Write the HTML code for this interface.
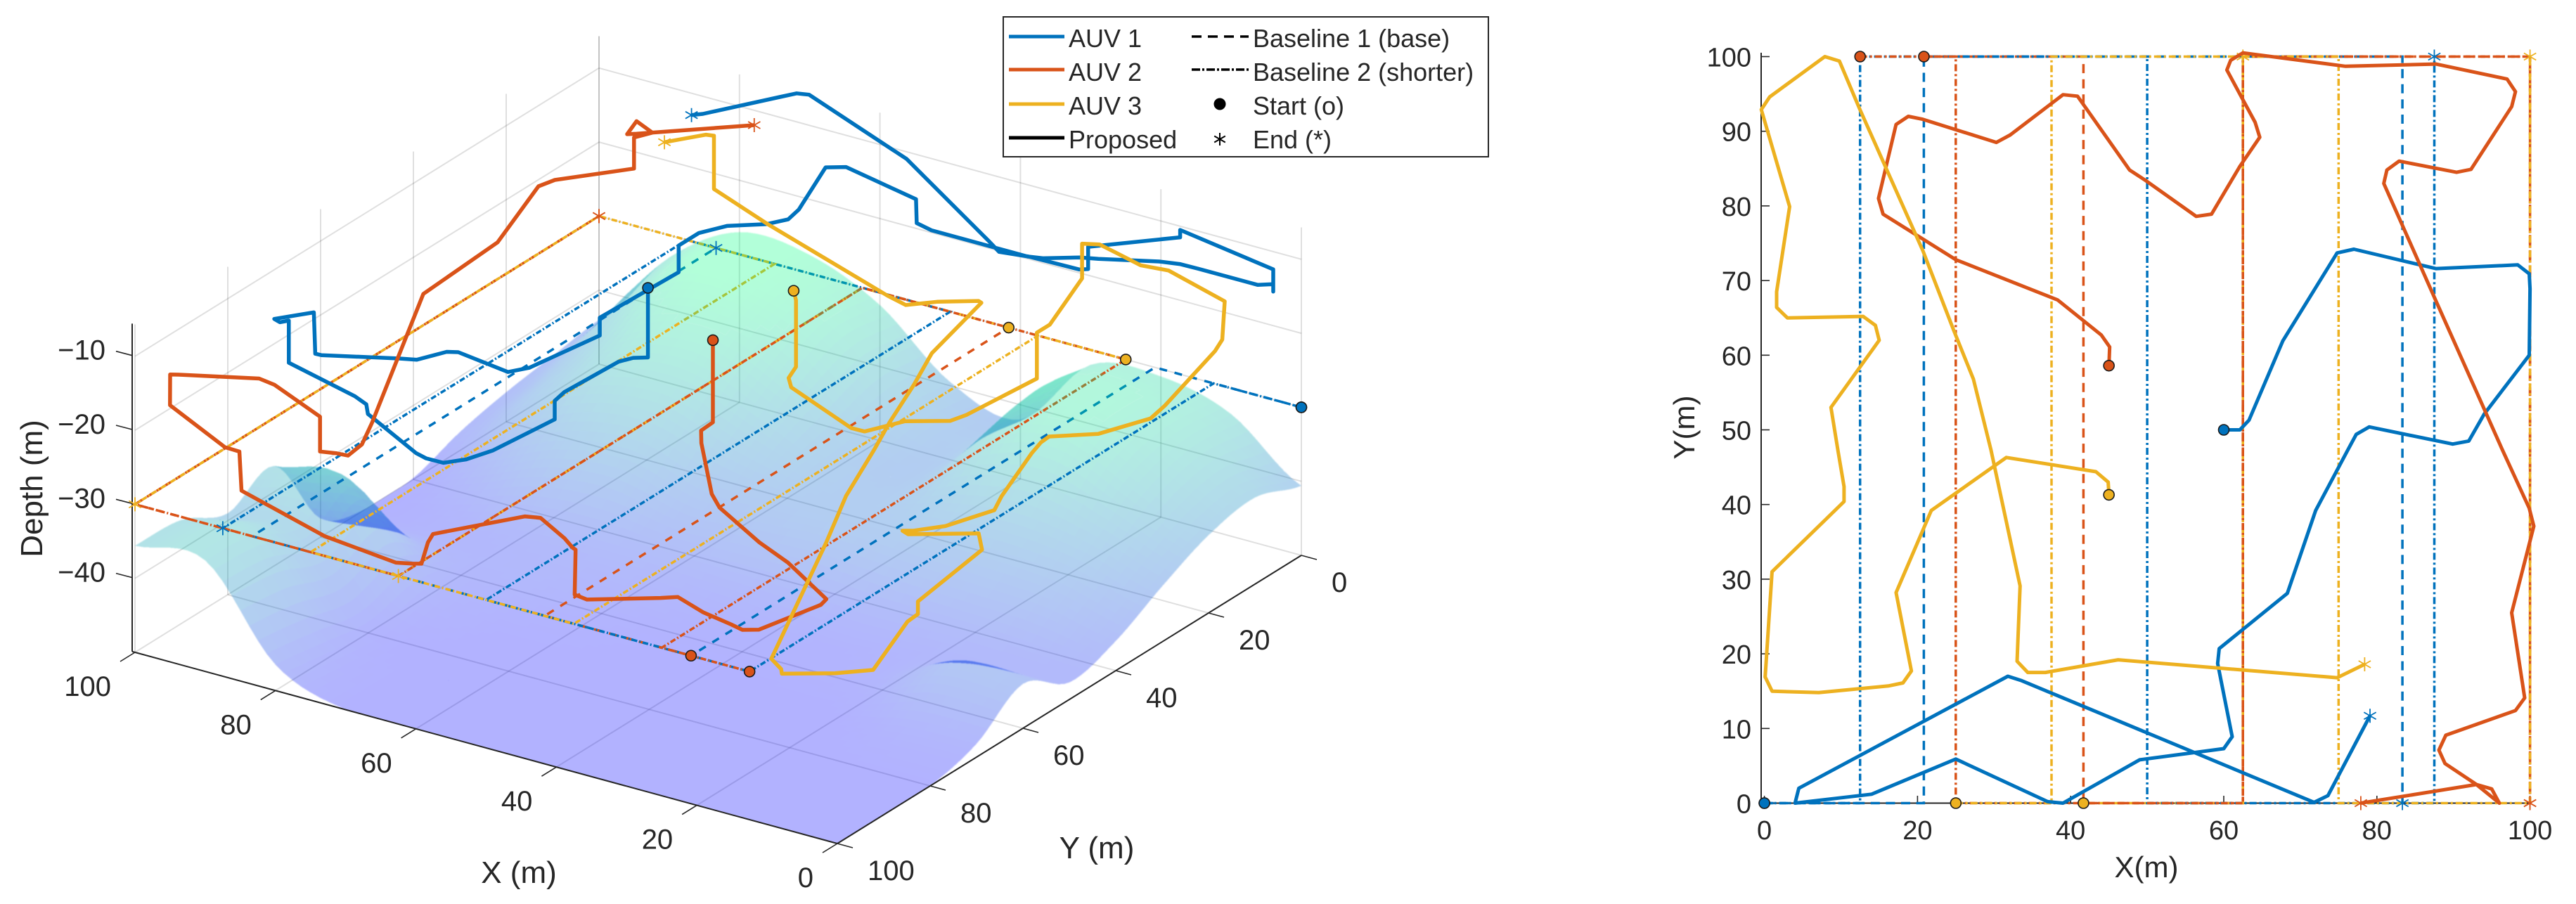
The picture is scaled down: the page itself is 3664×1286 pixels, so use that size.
<!DOCTYPE html>
<html lang="en">
<head>
<meta charset="utf-8">
<title>AUV trajectories over terrain</title>
<style>
html,body{margin:0;padding:0;background:#fff;width:3664px;height:1286px;overflow:hidden}
svg{display:block}
text{font-family:"Liberation Sans",Arial,sans-serif;fill:#262626}
</style>
</head>
<body>
<svg id="fig" xmlns="http://www.w3.org/2000/svg" width="3664" height="1286" viewBox="0 0 3664 1286">
  <g id="walls3d"></g>
  <g id="surfaceLow" style="filter:blur(.7px)" shape-rendering="crispEdges"></g>
  <g id="base3d"></g>
  <g id="surfaceHigh" style="filter:blur(.7px)" shape-rendering="crispEdges"></g>
  <g id="axes3d"></g>
  <g id="paths3d"></g>
  <g id="axes2d"></g>
  <g id="base2d"></g>
  <g id="paths2d"></g>

  <g>
    <rect x="1427" y="24" width="690" height="199" fill="#fff" stroke="#262626" stroke-width="2"/>
    <line x1="1435" x2="1514" y1="52" y2="52" stroke="#0072BD" stroke-width="5"/>
    <line x1="1435" x2="1514" y1="99" y2="99" stroke="#D95319" stroke-width="5"/>
    <line x1="1435" x2="1514" y1="148" y2="148" stroke="#EDB120" stroke-width="5"/>
    <line x1="1435" x2="1514" y1="196" y2="196" stroke="#000" stroke-width="5"/>
    <text x="1520" y="67" font-size="36">AUV 1</text>
    <text x="1520" y="115" font-size="36">AUV 2</text>
    <text x="1520" y="163" font-size="36">AUV 3</text>
    <text x="1520" y="211" font-size="36">Proposed</text>
    <line x1="1695" x2="1776" y1="52" y2="52" stroke="#000" stroke-width="3.5" stroke-dasharray="14 9"/>
    <line x1="1695" x2="1776" y1="99" y2="99" stroke="#000" stroke-width="3.5" stroke-dasharray="12 3 3 3"/>
    <circle cx="1735" cy="148" r="8.5" fill="#000"/>
    <path d="M1735 189V207M1727.2 193.5L1742.8 202.5M1727.2 202.5L1742.8 193.5" stroke="#000" stroke-width="2" fill="none"/>
    <text x="1782" y="67" font-size="36">Baseline 1 (base)</text>
    <text x="1782" y="115" font-size="36">Baseline 2 (shorter)</text>
    <text x="1782" y="163" font-size="36">Start (o)</text>
    <text x="1782" y="211" font-size="36">End (*)</text>
  </g>
</svg>
<script>
// ---------- DATA ----------
var colorAuv1 = '#0072BD', colorAuv2 = '#D95319', colorAuv3 = '#EDB120';

var xTicks3d = [0, 20, 40, 60, 80, 100];
var yTicks3d = [0, 20, 40, 60, 80, 100];
var zTicks3d = [-10, -20, -30, -40];
var xTicks2d = [0, 20, 40, 60, 80, 100];
var yTicks2d = [0, 10, 20, 30, 40, 50, 60, 70, 80, 90, 100];

// Proposed paths, top view
var auv1X = [60,62.1,63.3,67.7,74.8,77,87.7,98.4,99.9,100,99.9,94,92,89.9,79,77.3,76.2,72,68.3,59.4,59.2,61.1,60,49,39,37,25,14,4,4.5,31.8,33.6,71.8,73.6,79.1];
var auv1Y = [50,50,51.3,61.9,73.7,74.2,71.6,72.1,70.9,68.9,60,52.1,48.5,48.1,50.4,49.4,47.3,39.2,28.1,20.7,18.7,8.9,7.3,5.8,0,0.2,5.9,1.2,0,2,17,16.4,0.1,1,11.7];
var auv2X = [45,45.1,44,38.3,25,15.5,14.9,17.2,18.8,20.7,30.3,32.1,39,40.9,47.7,49.8,56.4,58.4,62.1,64.7,64.1,60.4,60.9,62.5,75.9,87.7,97,98.1,97.6,92.3,90.4,82.9,81.3,80.9,87.7,96.4,99.9,100.5,97.6,99.3,98.1,89,88.1,88.9,93,95,96,93,77.9];
var auv2Y = [58.6,61.1,62.7,67.4,72.8,78.9,81,90.9,92,91.6,88.5,89.5,94.9,94.7,84.8,83.4,78.6,78.9,85.3,89.2,91.2,98.2,99.5,100.5,98.7,99,97,95.3,93.3,84.9,84.5,86,84.8,83,67.3,47.3,39.5,37.1,25.5,14.1,12.4,9.1,7.1,5.3,2.5,1.9,0,2.5,0];
var auv3X = [45,44.9,43.3,31.6,21.8,17.2,19.2,18.1,16.2,7.1,1,0.1,1,10.4,10.4,9.6,8.7,15,14.5,12.9,3,1.6,1.6,3.3,-0.4,0.7,7.9,9.8,12.4,20.7,24.7,27.3,29.6,33.4,33,34.4,36.7,46.2,74.8,78.4];
var auv3Y = [41.3,43,44.4,46.3,39.2,28.2,17.7,16.1,15.7,14.8,15,16.9,31,40.4,42.4,47.3,53,62,64,65.2,65,66.4,68.5,79.9,92.9,94.6,100,99.4,93.1,74,63.4,56.8,47.3,29.1,19,17.5,17.5,19.2,16.8,18.6];

// Proposed paths in 3D (depth)
var auv1X3d = [60,60,62.1,63.3,66.3,66.8,66.8,70.8,72.6,74.2,75.8,77,85.2,85.5,87.5,96.6,96.6,97.8,99,99.9,99.9,99.9,94,92.9,89.9,88,79.8,77.3,73,73,68.9,68.9,67.6,65,61.4,59.4,59.2,60.8,60,50.9,50.8,48.9,39,36.6,28.8,25,18.2,16,14,6,4,4,4,12.9,12.9,22.5,22.5,23.4,28.7,31.8,33.6,50,69.3,71.8,73.6,78.4,79.1];
var auv1Y3d = [50,50,50,51.3,58.5,59.8,59.8,67.1,70.1,72.6,73.9,74.2,72.2,72.1,71.6,72,72,72.1,71.5,61.6,61.3,60,52.1,50,48.1,48.5,50.2,49.4,40.7,40.7,29.9,29.9,27.5,25.4,22.4,20.7,18.7,10.5,7.3,6,6,5.7,0,0.3,4.1,5.9,3.1,2,1.2,0.3,0,0,0,6.6,6.6,11.9,11.9,12.4,15.3,17,16.4,9.4,1.2,0.1,1,10.3,11.7];
var auv1Z3d = [-9.9,-19.3,-19.9,-20.2,-22.3,-23.1,-25.6,-28,-28.5,-28.4,-27.7,-27.2,-24.8,-23.6,-23.2,-20.9,-15.2,-15.7,-15.8,-19,-24.7,-25.4,-27.4,-28.1,-27,-26.4,-26.3,-25.4,-23.3,-20.9,-17.9,-14.3,-13.2,-12.4,-12.4,-11.9,-11.3,-9.2,-10.2,-12.7,-15.9,-16.5,-19.7,-19.2,-15.6,-14.1,-13.8,-14,-14.4,-14.9,-14.4,-15.4,-12.4,-6.8,-7.8,-9.5,-12.5,-12.6,-11.1,-10.6,-9.9,-5.7,-5.2,-6.1,-6.7,-6.6,-6.4];

var auv2X3d = [45,45,45.1,44,41,38.3,30.6,25,15.5,14.9,17.2,18.8,20.7,25.7,30.3,32.1,39,40.9,40.9,47.7,49.8,56.4,58.4,62.1,64.7,64.1,60.4,60.9,62.5,73.8,85.5,85.8,87.9,97,98.1,97.6,92.3,90.4,82.9,82.9,81.3,80.9,84.6,87.4,100.5,97.6,99.3,98.1,89,89,88.9,93,96,93,77.9];
var auv2Y3d = [58.7,58.7,61.1,62.7,65,67.4,70.5,72.8,78.9,81,90.9,92,91.6,90,88.5,89.5,94.9,94.7,94.5,84.8,83.4,78.6,78.9,85.3,89.2,91.2,98.2,99.5,100.5,98.8,99,99,98.9,97,95.3,93.3,84.9,84.5,86,86,84.8,83,74.4,68,37.1,25.5,14.1,12.4,9.1,9.1,5.3,2.5,0,2.5,0];
var auv2Z3d = [-9.7,-20.8,-21,-21.8,-27,-27.2,-28.7,-29.1,-29.2,-29,-29.1,-29.1,-29,-29.3,-29,-29.2,-29.1,-29,-23,-28.3,-28.1,-28.9,-29.1,-29,-29.1,-29.3,-28.5,-28.1,-28,-28,-24.8,-19.6,-19.6,-17,-13.8,-14.5,-16.9,-17.4,-19.2,-23.9,-24.2,-25.1,-27.9,-28.2,-26.2,-23,-20.3,-19.8,-17.2,-13,-13.8,-14.4,-17.9,-16.1,-12];

var auv3X3d = [45,44.2,44.2,44,43.3,33.7,31.6,27.7,23.4,21.8,17.9,17.9,17.2,19,19,18.1,16.2,12.7,9,1,0.1,0.4,0.8,1,5.5,9.7,10.4,10.4,9,8.7,12.3,14.6,14.5,12.9,3,1.6,3,3,3.3,-0.4,2.8,7.9,8,9.8,22.7,27.3,29.6,30.6,32.3,33.4,33,34.4,39.9,43.9,46.2,64.2,72.4,72.4,73.6,78.4];
var auv3Y3d = [41.3,42,42,43.9,44.4,46,46.3,43.5,40.3,39.2,29.9,29.9,28.2,18.5,18.5,16.1,15.7,15.4,15,15,16.9,18,28.2,31,35.5,39.7,40.4,42.4,51,53,58.1,61.5,64,65.2,65,66.4,78.1,78.1,79.9,92.9,96.2,100,100,99.4,68.1,56.8,47.3,42.4,34.6,29.1,19,17.5,18.1,18.8,19.2,17.7,17,17,16.9,18.6];
var auv3Z3d = [-9.8,-10.6,-19.6,-20.3,-21.2,-23.6,-23.4,-22.1,-22.2,-21.4,-19.1,-12.9,-12.3,-10.3,-5.6,-6.4,-7.1,-8.1,-8,-10.1,-14.3,-15.5,-19,-19.7,-21.2,-21,-21.7,-22.4,-24.5,-25.5,-26.6,-26.5,-25.5,-25.1,-22.5,-23.8,-26.6,-28.3,-28.7,-29.2,-29.2,-29.1,-28.5,-27.8,-27.7,-26.9,-25,-23.4,-21.8,-20,-17,-17.7,-19,-20.2,-19.4,-15,-12.6,-5.4,-5.6,-7.2];

// Baselines (lawn-mower sweeps) at constant depth
var baselineDepth = -30;
var base1BlueX = [0,20.83,20.83,83.33,83.33];
var base1BlueY = [0,0,100,100,0];
var base1RedX = [20.83,41.67,41.67,62.5,62.5,100,100];
var base1RedY = [100,100,0,0,100,100,0];
var base1YellowX = [41.67,62.5,62.5];
var base1YellowY = [0,0,100];
var base2BlueX = [0,12.5,12.5,50,50,87.5,87.5];
var base2BlueY = [0,0,100,100,0,0,100];
var base2RedX = [12.5,25,25,62.5,62.5,100,100];
var base2RedY = [100,100,0,0,100,100,0];
var base2YellowX = [25,37.5,37.5,75,75,100,100];
var base2YellowY = [0,0,100,100,0,0,100];

// Seabed depth sampled every 10 m; rows Y = 0..100, columns X = 0..100
var terrainGrid = [
 [-40.6,-33.5,-31,-32,-42,-39.5,-31.7,-27.5,-27,-33,-44],
 [-38.3,-33,-29.5,-31,-41,-39,-31,-27.5,-27,-35,-45],
 [-39.5,-35,-30.5,-33,-41.5,-40.5,-34,-30,-31.5,-38.5,-46],
 [-42.5,-39.5,-38,-39,-41.5,-41,-38.5,-35,-36,-41,-47.5],
 [-46,-44,-43.5,-43,-42.5,-43,-43.5,-41,-42,-46,-49.8],
 [-47.7,-47.8,-48,-48.5,-48,-47.5,-47,-47,-47.5,-49,-50],
 [-44,-43.8,-48.5,-49.5,-49.5,-49.5,-49,-48,-48,-46.5,-47.5],
 [-48.2,-48.5,-50,-50,-50,-50,-49.8,-49.5,-47,-35.5,-36.5],
 [-50,-50,-50,-50,-50,-50,-50,-50,-48.5,-38.5,-39],
 [-50,-50,-50,-50,-50,-50,-50,-50,-47.5,-35.5,-36],
 [-50,-50,-50,-50,-50,-50,-50,-50,-46.5,-35,-35.6]
];
var terrainMin = -50, terrainMax = -27;

// ---------- SCALES ----------
function proj(x, y, z) {
  return [1851 - 9.99 * x - 6.6 * y, 790 - 2.72 * x + 4.1 * y - 10.53 * (z + 50)];
}
function sx2(v) { return 2509.6 + 10.89 * v; }
function sy2(v) { return 1142.5 - 10.62 * v; }

var NS = 'http://www.w3.org/2000/svg';
function mk(tag, parent, attrs) {
  var el = document.createElementNS(NS, tag);
  for (var k in attrs) el.setAttribute(k, attrs[k]);
  parent.appendChild(el);
  return el;
}
function ptsPath(pts) {
  var d = '';
  for (var i = 0; i < pts.length; i++) d += (i ? 'L' : 'M') + pts[i][0].toFixed(1) + ' ' + pts[i][1].toFixed(1);
  return d;
}
var walls3d = document.getElementById('walls3d'), axes3d = document.getElementById('axes3d');
var base3d = document.getElementById('base3d'), paths3d = document.getElementById('paths3d');
var axes2d = document.getElementById('axes2d'), base2d = document.getElementById('base2d');
var paths2d = document.getElementById('paths2d');
var surfaceLow = document.getElementById('surfaceLow'), surfaceHigh = document.getElementById('surfaceHigh');

// ---------- 3D GRID ----------
var zTop = -5.7, zFloor = -50;
function gridLine(a, b) {
  var el = mk('path', walls3d, {d: ptsPath([a, b]), stroke: '#262626', 'stroke-opacity': 0.15, 'stroke-width': 2, fill: 'none'});
  
  
}
xTicks3d.forEach(function (x) {
  gridLine(proj(x, 0, zFloor), proj(x, 100, zFloor));
  gridLine(proj(x, 0, zFloor), proj(x, 0, zTop));
});
yTicks3d.forEach(function (y) {
  gridLine(proj(0, y, zFloor), proj(100, y, zFloor));
  gridLine(proj(100, y, zFloor), proj(100, y, zTop));
});
zTicks3d.forEach(function (z) {
  gridLine(proj(100, 100, z), proj(100, 0, z));
  gridLine(proj(100, 0, z), proj(0, 0, z));
});

// ---------- TERRAIN SURFACE ----------
function catmull(a, b, c, d, t) {
  return 0.5 * (2 * b + (c - a) * t + (2 * a - 5 * b + 4 * c - d) * t * t + (3 * b - a - 3 * c + d) * t * t * t);
}
function gridAt(r, c) {
  r = Math.max(0, Math.min(terrainGrid.length - 1, r));
  c = Math.max(0, Math.min(terrainGrid[0].length - 1, c));
  return terrainGrid[r][c];
}
function terrainZ(x, y) {
  var fx = x / 10, fy = y / 10;
  var c = Math.min(9, Math.floor(fx)), r = Math.min(9, Math.floor(fy));
  var tx = fx - c, ty = fy - r, row = [];
  for (var i = -1; i <= 2; i++) {
    row.push(catmull(gridAt(r + i, c - 1), gridAt(r + i, c), gridAt(r + i, c + 1), gridAt(r + i, c + 2), tx));
  }
  return Math.max(terrainMin, catmull(row[0], row[1], row[2], row[3], ty));
}
function winter(z) {
  var t = Math.max(0, Math.min(1, (z - terrainMin) / (terrainMax - terrainMin)));
  return 'rgb(0,' + Math.round(255 * t) + ',' + Math.round(255 * (1 - 0.5 * t)) + ')';
}
var cellSize = 1.25, nCells = Math.round(100 / cellSize);
for (var j = 0; j < nCells; j++) {
  for (var i = nCells - 1; i >= 0; i--) {
    var x0 = i * cellSize, x1 = x0 + cellSize, y0 = j * cellSize, y1 = y0 + cellSize;
    var z00 = terrainZ(x0, y0), z10 = terrainZ(x1, y0), z11 = terrainZ(x1, y1), z01 = terrainZ(x0, y1);
    var zm = (z00 + z10 + z11 + z01) / 4;
    var cell = mk('path', zm > baselineDepth ? surfaceHigh : surfaceLow, {
      d: ptsPath([proj(x0, y0, z00), proj(x1, y0, z10), proj(x1, y1, z11), proj(x0, y1, z01)]) + 'Z',
      fill: winter(zm), 'fill-opacity': 0.3
    });
    
    
  }
}

// ---------- MARKERS ----------
function startMarker(parent, p, color) {
  var m = mk('circle', parent, {cx: p[0], cy: p[1], r: 7.5, fill: color, stroke: '#1a1a1a', 'stroke-width': 1.6});
  
  
}
function endMarker(parent, p, color) {
  var x = p[0], y = p[1], r = 10, a = r * 0.866, b = r * 0.5;
  var m = mk('path', parent, {
    d: 'M' + x + ' ' + (y - r) + 'V' + (y + r) + 'M' + (x - a) + ' ' + (y - b) + 'L' + (x + a) + ' ' + (y + b) + 'M' + (x - a) + ' ' + (y + b) + 'L' + (x + a) + ' ' + (y - b),
    stroke: color, 'stroke-width': 1.8, fill: 'none'
  });
  
  
}

// ---------- SERIES ----------
var baselineSeries = [
  [base1BlueX, base1BlueY, colorAuv1, 'dash'],
  [base1RedX, base1RedY, colorAuv2, 'dash'],
  [base1YellowX, base1YellowY, colorAuv3, 'dash'],
  [base2BlueX, base2BlueY, colorAuv1, 'dot'],
  [base2RedX, base2RedY, colorAuv2, 'dot'],
  [base2YellowX, base2YellowY, colorAuv3, 'dot']
];
baselineSeries.forEach(function (s) {
  var pts3 = s[0].map(function (x, k) { return proj(x, s[1][k], baselineDepth); });
  var line3 = mk('path', base3d, {d: ptsPath(pts3), fill: 'none', stroke: s[2], 'stroke-width': 3.5, 'stroke-dasharray': s[3] === 'dash' ? '11 11' : '8 3 2 3'});
  
  
  var pts2 = s[0].map(function (x, k) { return [sx2(x), sy2(s[1][k])]; });
  var line2 = mk('path', base2d, {d: ptsPath(pts2), fill: 'none', stroke: s[2], 'stroke-width': 3.5, 'stroke-dasharray': s[3] === 'dash' ? '13 8.6' : '10 4 3 4'});
  
  
});
baselineSeries.forEach(function (s) {
  var n = s[0].length - 1;
  endMarker(paths3d, proj(s[0][n], s[1][n], baselineDepth), s[2]);
  endMarker(paths2d, [sx2(s[0][n]), sy2(s[1][n])], s[2]);
  startMarker(paths3d, proj(s[0][0], s[1][0], baselineDepth), s[2]);
  startMarker(paths2d, [sx2(s[0][0]), sy2(s[1][0])], s[2]);
});

var proposed3d = [
  [auv1X3d, auv1Y3d, auv1Z3d, colorAuv1],
  [auv2X3d, auv2Y3d, auv2Z3d, colorAuv2],
  [auv3X3d, auv3Y3d, auv3Z3d, colorAuv3]
];
proposed3d.forEach(function (s) {
  var pts = s[0].map(function (x, k) { return proj(x, s[1][k], s[2][k]); });
  var line = mk('path', paths3d, {d: ptsPath(pts), fill: 'none', stroke: s[3], 'stroke-width': 5.5, 'stroke-linejoin': 'round', 'stroke-linecap': 'butt'});
  
  
  startMarker(paths3d, pts[0], s[3]);
  endMarker(paths3d, pts[pts.length - 1], s[3]);
});

var proposed2d = [
  [auv1X, auv1Y, colorAuv1],
  [auv2X, auv2Y, colorAuv2],
  [auv3X, auv3Y, colorAuv3]
];
proposed2d.forEach(function (s) {
  var pts = s[0].map(function (x, k) { return [sx2(x), sy2(s[1][k])]; });
  var line = mk('path', paths2d, {d: ptsPath(pts), fill: 'none', stroke: s[2], 'stroke-width': 5, 'stroke-linejoin': 'round'});
  
  
  startMarker(paths2d, pts[0], s[2]);
  endMarker(paths2d, pts[pts.length - 1], s[2]);
});

// ---------- 3D AXES ----------
var axisColor = '#262626';
function axisSeg(parent, a, b, w) {
  var el = mk('path', parent, {d: ptsPath([a, b]), stroke: axisColor, 'stroke-width': w, fill: 'none'});
  
  
}
function label(parent, x, y, size, anchor, txt, name, rot) {
  var attrs = {x: x, y: y, 'font-size': size, 'text-anchor': anchor};
  if (rot) attrs.transform = 'rotate(' + rot + ' ' + x + ' ' + y + ')';
  var t = mk('text', parent, attrs);
  t.textContent = txt;
  
  
}
var xEnd = 100.4;
axisSeg(axes3d, proj(xEnd, 100, zFloor), proj(0, 100, zFloor), 2);
axisSeg(axes3d, proj(0, 100, zFloor), proj(0, 0, zFloor), 2);
axisSeg(axes3d, proj(xEnd, 100, zFloor), proj(xEnd, 100, zTop), 2);
xTicks3d.forEach(function (x) {
  var p = proj(x, 100, zFloor);
  axisSeg(axes3d, p, [p[0] - 21, p[1] + 13], 1.6);
  label(axes3d, p[0] - 34, p[1] + 62, 40, 'end', String(x), 'x-tick-label-3d');
});
yTicks3d.forEach(function (y) {
  var p = proj(0, y, zFloor);
  axisSeg(axes3d, p, [p[0] + 22, p[1] + 6], 1.6);
  label(axes3d, p[0] + 43, p[1] + 52, 40, 'start', String(y), 'y-tick-label-3d');
});
zTicks3d.forEach(function (z) {
  var p = proj(xEnd, 100, z);
  axisSeg(axes3d, p, [p[0] - 23, p[1] - 6], 1.6);
  label(axes3d, 150, p[1] + 6, 40, 'end', '\u2212' + (-z), 'z-tick-label-3d');
});
label(axes3d, 738, 1256, 44, 'middle', 'X (m)', 'x-axis-title-3d');
label(axes3d, 1560, 1221, 44, 'middle', 'Y (m)', 'y-axis-title-3d');
label(axes3d, 60, 695, 44, 'middle', 'Depth (m)', 'depth-axis-title', -90);

// ---------- TOP-VIEW AXES ----------
axisSeg(axes2d, [2505, 75], [2505, 1143], 2);
axisSeg(axes2d, [2505, 1142.5], [3600, 1142.5], 2);
xTicks2d.forEach(function (x) {
  axisSeg(axes2d, [sx2(x), 1142.5], [sx2(x), 1132], 1.6);
  label(axes2d, sx2(x), 1194, 38, 'middle', String(x), 'x-tick-label');
});
yTicks2d.forEach(function (y) {
  axisSeg(axes2d, [2505, sy2(y)], [2517, sy2(y)], 1.6);
  label(axes2d, 2491, sy2(y) + 14, 38, 'end', String(y), 'y-tick-label');
});
label(axes2d, 3053, 1248, 42, 'middle', 'X(m)', 'x-axis-title');
label(axes2d, 2410, 608, 42, 'middle', 'Y(m)', 'y-axis-title', -90);
</script>
</body>
</html>
